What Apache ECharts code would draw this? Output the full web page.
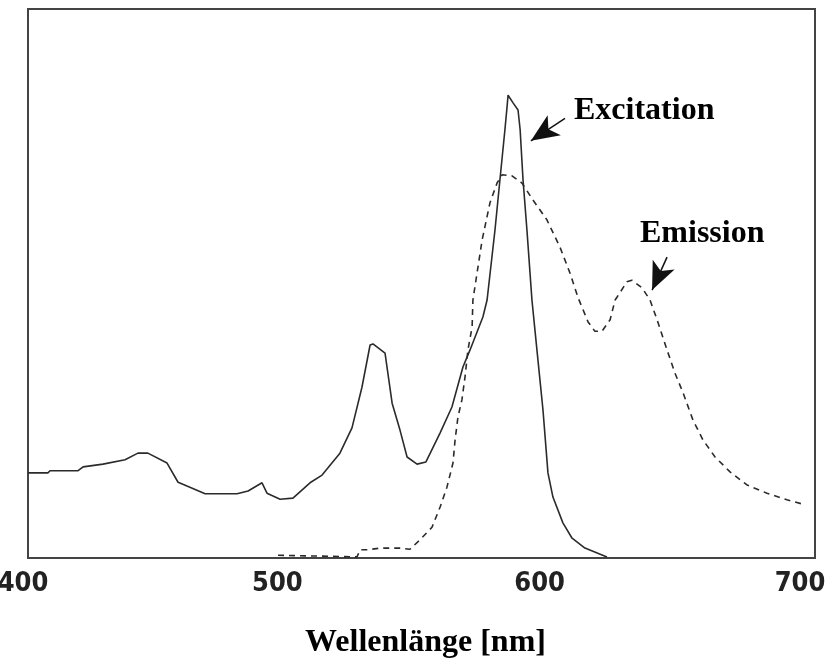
<!DOCTYPE html>
<html>
<head>
<meta charset="utf-8">
<script src="https://cdn.jsdelivr.net/npm/echarts@6/dist/echarts.min.js"></script>
<style>html,body{margin:0;padding:0;background:#fff;}#chart{width:830px;height:659px;}</style>
</head>
<body>
<div id="chart"></div>
<script>
// Tick labels
var xTicks = [400, 500, 600, 700];
// Excitation (solid)
var excitationX = [400.0,407.6,408.4,419.1,421.0,428.6,437.0,441.9,445.7,453.0,457.2,460.6,467.5,479.7,483.9,489.2,491.1,496.1,501.0,507.5,512.1,518.9,523.5,527.3,530.4,531.5,536.1,538.8,541.8,544.5,548.3,551.7,557.1,561.6,565.8,568.5,573.4,575.0,578.0,579.9,581.8,582.6,583.0,584.9,586.8,587.6,588.7,590.2,592.1,594.0,596.3,598.2,600.1,603.9,607.4,612.3,620.7];
var excitationY = [15.5,15.5,15.9,15.9,16.6,17.1,17.9,19.1,19.1,17.3,13.8,13.1,11.7,11.7,12.2,13.7,11.8,10.7,10.9,13.7,15.1,19.1,23.7,31.1,38.8,39.0,37.3,28.2,23.3,18.4,17.1,17.5,22.8,27.5,34.8,37.9,43.9,47.0,59.7,68.9,78.0,82.1,84.3,82.9,81.6,78.0,68.9,59.7,47.0,37.9,27.0,15.5,11.1,6.4,3.6,1.8,0.2];
// Emission (dashed)
var emissionX = [495.3,525.4,526.6,529.2,534.2,541.8,545.6,549.4,554.0,557.1,559.7,562.0,562.8,563.9,565.4,566.6,567.7,569.3,569.6,573.1,576.1,578.8,580.7,584.5,588.3,592.5,597.8,602.8,606.6,609.7,613.5,616.1,618.8,621.9,623.8,624.5,628.3,630.2,634.1,637.1,639.8,643.6,646.6,649.7,653.5,657.3,661.9,667.6,674.1,681.7,689.3,696.2];
var emissionY = [0.5,0.2,1.5,1.5,1.8,1.8,1.6,3.3,5.6,9.3,12.9,17.3,21.5,25.7,28.8,33.0,37.9,42.1,47.0,57.9,64.7,68.3,69.8,69.6,68.3,65.2,61.6,56.6,51.9,47.4,43.0,41.3,41.3,43.4,47.0,47.5,50.3,50.6,49.2,47.0,43.4,37.9,33.7,30.1,25.1,21.5,18.4,15.7,13.3,11.8,10.6,9.7];
// Annotation labels and arrows (data coordinates: [from, to])
var annotationLabels = ["Excitation", "Emission"];
var excitationArrow = [[604.7, 80.1], [591.7, 76.0]];
var emissionArrow = [[643.6, 54.8], [637.9, 48.8]];

function pairs(xs, ys) { return xs.map(function (x, i) { return [x, ys[i]]; }); }

var chart = echarts.init(document.getElementById('chart'), null, {renderer: 'canvas'});
var lineColor = '#2b2b2b';
var arrowLine = function (seg) {
  return [{coord: seg[0], symbol: 'none'}, {coord: seg[1], symbol: 'arrow', symbolSize: [18, 28]}];
};
var tickFont = {color: '#222', fontFamily: 'DejaVu Sans Condensed, DejaVu Sans', fontWeight: 'bold', fontSize: 27};
chart.setOption({
  animation: false,
  backgroundColor: '#ffffff',
  grid: {left: 28, right: 15, top: 9, bottom: 101, show: true, borderColor: '#444', borderWidth: 2, containLabel: false, outerBoundsMode: 'none'},
  xAxis: {
    type: 'value', min: xTicks[0], max: xTicks[xTicks.length - 1], interval: 100,
    axisLine: {show: true, lineStyle: {color: '#444', width: 2}},
    axisTick: {show: false},
    splitLine: {show: false},
    axisLabel: {
      margin: 12,
      formatter: function (v) {
        if (v === xTicks[0]) return '{first|' + v + '}';
        if (v === xTicks[xTicks.length - 1]) return '{last|' + v + '}';
        return '{mid|' + v + '}';
      },
      rich: {
        first: Object.assign({padding: [0, 10, 0, 0]}, tickFont),
        mid: Object.assign({padding: [0, 26, 0, 0]}, tickFont),
        last: Object.assign({padding: [0, 30, 0, 0]}, tickFont)
      }
    },
    name: 'Wellenlänge [nm]', nameLocation: 'middle', nameGap: 69,
    nameTextStyle: {fontFamily: 'Liberation Serif, Times New Roman, serif', fontWeight: 'bold', fontSize: 32, color: '#000', padding: [0, 0, 0, 8]}
  },
  yAxis: {
    type: 'value', min: 0, max: 100,
    axisLine: {show: true, lineStyle: {color: '#444', width: 2}},
    axisTick: {show: false}, axisLabel: {show: false}, splitLine: {show: false}
  },
  series: [
    {
      name: 'Excitation', type: 'line', data: pairs(excitationX, excitationY), showSymbol: false, symbol: 'none',
      lineStyle: {color: lineColor, width: 1.6, type: 'solid'},
      markLine: {
        silent: true, symbol: ['none', 'arrow'],
        lineStyle: {color: '#111', width: 1.5, type: 'solid'},
        itemStyle: {color: '#111'},
        label: {show: false},
        data: [arrowLine(excitationArrow)]
      }
    },
    {
      name: 'Emission', type: 'line', data: pairs(emissionX, emissionY), showSymbol: false, symbol: 'none',
      lineStyle: {color: lineColor, width: 1.6, type: [6, 5]},
      markLine: {
        silent: true, symbol: ['none', 'arrow'],
        lineStyle: {color: '#111', width: 1.5, type: 'solid'},
        itemStyle: {color: '#111'},
        label: {show: false},
        data: [arrowLine(emissionArrow)]
      }
    }
  ],
  graphic: [
    {type: 'text', left: 574, top: 95, style: {text: annotationLabels[0], font: 'bold 32px "Liberation Serif", "Times New Roman", serif', fill: '#000'}},
    {type: 'text', left: 640, top: 218, style: {text: annotationLabels[1], font: 'bold 32px "Liberation Serif", "Times New Roman", serif', fill: '#000'}}
  ]
});
</script>
</body>
</html>
